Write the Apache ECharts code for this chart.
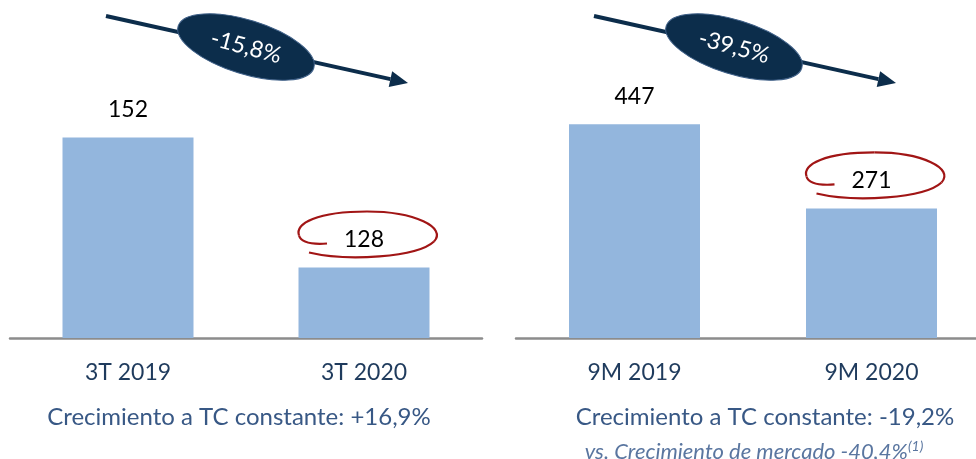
<!DOCTYPE html>
<html>
<head>
<meta charset="utf-8">
<script src="https://cdn.jsdelivr.net/npm/echarts@6/dist/echarts.min.js"></script>
<style>
  html, body { margin: 0; padding: 0; background: #fff; overflow: hidden; }
  #main { width: 990px; height: 459px; }
</style>
</head>
<body>
<div id="main"></div>
<script>
// datos
var catsTrim = ['3T 2019', '3T 2020'];
var valsTrim = [152, 128];
var catsNueve = ['9M 2019', '9M 2020'];
var valsNueve = [447, 271];
var variaciones = ['-15,8%', '-39,5%'];
var subtitulos = ['Crecimiento a TC constante: +16,9%', 'Crecimiento a TC constante: -19,2%'];
var notaMercado = 'vs. Crecimiento de mercado -40,4%';

var FONT = 'Lato, "Open Sans", sans-serif';
var AZUL_BARRA = '#93b6dd';
var NAVY = '#0c2d4b';
var ROJO = '#a11515';

function ejeX(idx, cats) {
    return {
        type: 'category', gridIndex: idx, data: cats,
        axisTick: { show: false },
        axisLine: { lineStyle: { color: '#8c8c8c', width: 2.5 } },
        axisLabel: { color: '#1f3b5d', fontSize: 23, fontFamily: FONT, margin: 23 }
    };
}
function ejeY(idx, min, max) {
    return { type: 'value', gridIndex: idx, min: min, max: max, show: false, splitLine: { show: false } };
}
function serie(idx, vals) {
    return {
        type: 'bar', xAxisIndex: idx, yAxisIndex: idx, data: vals, barWidth: 131,
        itemStyle: { color: AZUL_BARRA },
        label: { show: true, position: 'top', distance: 16, color: '#000', fontSize: 23, fontFamily: FONT },
        silent: true
    };
}

// el lienzo es algo más ancho que la ventana: el eje derecho sigue fuera del borde
var chart = echarts.init(document.getElementById('main'));
chart.setOption({
    animation: false,
    grid: [
        { left: 10, width: 472, top: 94, bottom: 121 },
        { left: 516, width: 474, top: 99, bottom: 121 }
    ],
    xAxis: [ejeX(0, catsTrim), ejeX(1, catsNueve)],
    yAxis: [ejeY(0, 115, 160), ejeY(1, 0, 500)],
    series: [serie(0, valsTrim), serie(1, valsNueve)]
});

// anotaciones
var g = [];
function flecha(dx, texto) {
    var tip = [408 + dx, 83];
    var ang = Math.atan2(67, 302);
    var ux = Math.cos(ang), uy = Math.sin(ang);
    var bx = tip[0] - 18 * ux, by = tip[1] - 18 * uy;
    g.push({ type: 'line', shape: { x1: 106 + dx, y1: 16, x2: bx, y2: by }, style: { stroke: NAVY, lineWidth: 4 } });
    g.push({ type: 'polygon', shape: { points: [tip, [bx + 8 * uy, by - 8 * ux], [bx - 8 * uy, by + 8 * ux]] }, style: { fill: NAVY } });
    g.push({ type: 'ellipse', x: 246 + dx, y: 47, rotation: -0.3, shape: { cx: 0, cy: 0, rx: 71, ry: 27 },
        style: { fill: NAVY, stroke: '#3f6088', lineWidth: 1 } });
    g.push({ type: 'text', x: 246 + dx, y: 47, rotation: -0.26,
        style: { text: texto, fill: '#fff', fontSize: 23, fontFamily: FONT, align: 'center', verticalAlign: 'middle' } });
}
flecha(0, variaciones[0]);
flecha(488, variaciones[1]);

// trazo rojo a mano alrededor de la etiqueta
function garabato(p) {
    var segs = [
        [-58, 17, -20, 26, 50, 22, 67, 6],
        [67, 6, 80, -8, 48, -24, 0, -24],
        [0, -24, -50, -24, -72, -12, -68, 0],
        [-68, 0, -66, 7, -54, 9, -40, 8]
    ];
    var hijos = segs.map(function (s) {
        return { type: 'bezierCurve',
            shape: { x1: s[0], y1: s[1], cpx1: s[2], cpy1: s[3], cpx2: s[4], cpy2: s[5], x2: s[6], y2: s[7] },
            style: { fill: null, stroke: ROJO, lineWidth: 2.2 } };
    });
    g.push({ type: 'group', x: p[0] + 3, y: p[1] - 32, children: hijos });
}
garabato(chart.convertToPixel({ seriesIndex: 0 }, [1, valsTrim[1]]));
garabato(chart.convertToPixel({ seriesIndex: 1 }, [1, valsNueve[1]]));

g.push({ type: 'text', x: 239, y: 417, style: { text: subtitulos[0], fill: '#385885', fontSize: 24, fontFamily: FONT, align: 'center', verticalAlign: 'middle' } });
g.push({ type: 'text', x: 765, y: 417, style: { text: subtitulos[1], fill: '#385885', fontSize: 24, fontFamily: FONT, align: 'center', verticalAlign: 'middle' } });
g.push({ type: 'text', x: 754, y: 452, style: {
    text: '{a|' + notaMercado + '}{s|(1)}', align: 'center', verticalAlign: 'middle',
    rich: {
        a: { fill: '#5a76a0', fontSize: 22, fontFamily: FONT, fontStyle: 'italic' },
        s: { fill: '#5a76a0', fontSize: 14, fontFamily: FONT, fontStyle: 'italic', verticalAlign: 'top', padding: [0, 0, 12, 0] }
    } } });

chart.setOption({ graphic: g });
</script>
</body>
</html>
